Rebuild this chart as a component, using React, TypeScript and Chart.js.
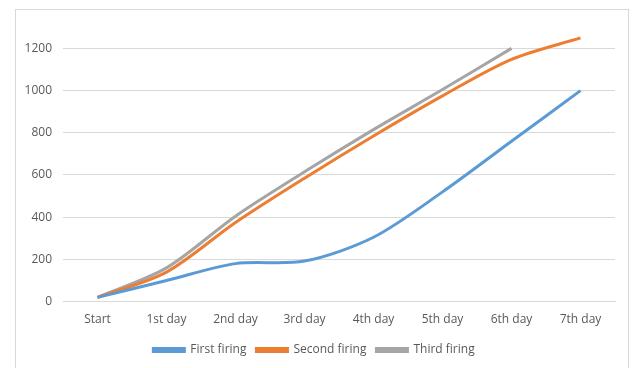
import React, { useEffect, useRef } from "react";
import { Chart, registerables } from "chart.js";

Chart.register(...registerables);

const categories = ["Start", "1st day", "2nd day", "3rd day", "4th day", "5th day", "6th day", "7th day"];
const firstFiring = [20, 100, 180, 192, 305, 520, 760, 1000];
const secondFiring = [20, 140, 375, 585, 785, 975, 1148, 1250];
const thirdFiring = [20, 160, 405, 615, 815, 1005, 1200, null];
const yTicks = [0, 200, 400, 600, 800, 1000, 1200];

const FONT = "'Open Sans', 'Noto Sans', sans-serif";

export default function App() {
  const ref = useRef<HTMLCanvasElement | null>(null);
  useEffect(() => {
    if (!ref.current) return;
    const mk = (label: string, data: (number | null)[], color: string) => ({
      label,
      data,
      borderColor: color,
      backgroundColor: color,
      borderWidth: 3,
      pointRadius: 0,
      tension: 0.3,
      fill: false,
      spanGaps: false,
    });
    const chart = new Chart(ref.current, {
      type: "line",
      data: {
        labels: categories,
        datasets: [
          mk("First firing", firstFiring, "#5B9BD5"),
          mk("Second firing", secondFiring, "#ED7D31"),
          mk("Third firing", thirdFiring, "#A5A5A5"),
        ],
      },
      options: {
        animation: false,
        responsive: false,
        maintainAspectRatio: false,
        layout: { padding: { left: 13, right: 22, top: 0, bottom: 2 } },
        plugins: {
          tooltip: { enabled: false },
          legend: {
            position: "bottom",
            labels: {
              boxWidth: 31,
              boxHeight: 3,
              color: "#595959",
              padding: 10,
              font: { family: FONT, size: 12 },
            },
          },
        },
        scales: {
          x: {
            offset: true,
            grid: { display: false },
            border: { display: true, color: "#D9D9D9", width: 1 },
            ticks: { color: "#595959", font: { family: FONT, size: 12 }, padding: 3, maxRotation: 0 },
            afterFit: (s: any) => {
              s.height += 4;
            },
          },
          y: {
            min: 0,
            max: 1400,
            afterBuildTicks: (s: any) => {
              s.ticks = yTicks.map((v) => ({ value: v }));
            },
            afterFit: (s: any) => {
              s.width = 50;
            },
            border: { display: false },
            grid: {
              color: "#D9D9D9",
              drawTicks: false,
            },
            ticks: {
              color: "#595959",
              padding: 11,
              font: { family: FONT, size: 12 },
              callback: (v: any) => String(v),
            },
          },
        },
      },
    });
    return () => chart.destroy();
  }, []);
  return (
    <div style={{ position: "fixed", left: 0, top: 0, width: 637, height: 368, background: "#fff", overflow: "hidden" }}>
      <div
        style={{
          position: "absolute",
          left: 15,
          top: 9,
          width: 614,
          height: 380,
          border: "1px solid #D9D9D9",
          boxSizing: "border-box",
        }}
      />
      <canvas ref={ref} width={637} height={380} style={{ position: "absolute", left: 0, top: -12 }} />
    </div>
  );
}
